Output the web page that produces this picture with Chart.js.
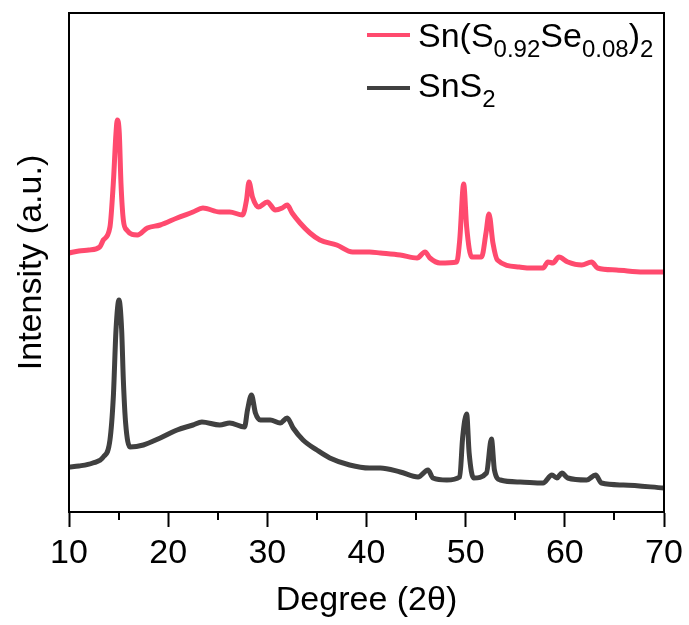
<!DOCTYPE html>
<html>
<head>
<meta charset="utf-8">
<title>XRD</title>
<script src="https://cdn.jsdelivr.net/npm/chart.js@4.4.1/dist/chart.umd.min.js"></script>
<style>
  body { margin: 0; background: #fff; }
  #wrap { position: relative; width: 689px; height: 625px; font-family: "Liberation Sans", Arial, sans-serif; }
  .leg { position: absolute; left: 367px; height: 4px; width: 43px; }
  .lab { position: absolute; left: 418px; font-size: 34px; line-height: 34px; color: #000; white-space: nowrap; }
  .lab span { font-size: 24px; position: relative; top: 10px; }
</style>
</head>
<body>
<div id="wrap">
  <canvas id="xrd" width="689" height="625"></canvas>
  <div class="leg" style="top:33px;background:#ff4a6e"></div>
  <div class="lab" style="top:18px">Sn(S<span>0.92</span>Se<span>0.08</span>)<span>2</span></div>
  <div class="leg" style="top:86px;background:#404040"></div>
  <div class="lab" style="top:68px">SnS<span>2</span></div>
</div>
<script>
// Sn(S0.92Se0.08)2 (graus, intensidade relativa)
const redX = [10.0, 11.0, 12.0, 13.1, 13.46, 14.13, 14.47, 14.74, 14.87, 15.07, 15.24, 15.48, 15.82, 16.9, 17.9, 19.2, 20.9, 22.5, 23.5, 25.2, 26.2, 27.5,
  27.9, 28.15, 28.5, 29.1, 30.0, 30.8, 31.5, 32.0, 32.5, 33.3, 34.3, 35.3, 37.0, 38.6, 40.3, 41.4, 43.4, 45.1, 45.9, 46.4,
  47.4, 49.1, 49.4, 49.8, 50.1, 50.6, 51.6, 52.05, 52.35, 52.75, 53.2, 55.4, 56.5, 57.8, 58.3, 58.8, 59.4, 60.3, 61.7, 62.7,
  63.3, 65.2, 67.9, 70.0];
const redY = [259, 261, 262, 265, 272, 285, 329, 379, 392, 379, 329, 292, 282, 277, 284, 287, 294, 300, 304, 300, 300, 297,
  312, 330, 315, 305, 310, 302, 304, 307, 299, 289, 279, 272, 267, 260, 260, 259, 257, 254, 260, 254,
  249, 250, 272, 328, 285, 255, 255, 279, 298, 269, 252, 245, 244, 244, 250, 249, 255, 250, 247, 250,
  244, 242, 240, 240];

// SnS2
const blackX = [10.0, 11.0, 12.4, 13.46, 14.13, 14.47, 14.74, 15.04, 15.31, 15.48, 15.71, 16.15, 17.5, 19.2, 20.9, 22.5, 23.4, 25.2, 26.2, 27.7, 28.0, 28.4,
  28.8, 29.3, 30.3, 31.3, 32.0, 32.6, 33.6, 35.0, 36.3, 38.3, 40.3, 41.4, 43.4, 45.2, 46.2, 46.7, 48.1, 49.4, 49.7, 50.1,
  50.35, 50.8, 52.1, 52.6, 52.9, 53.5, 55.5, 57.8, 58.7, 59.2, 59.7, 60.3, 62.2, 63.1, 63.7, 65.9, 70.0];
const blackY = [45, 46, 49, 55, 72, 115, 182, 212, 182, 132, 89, 65, 67, 74, 82, 87, 90, 87, 89, 85, 102, 117,
  99, 92, 92, 89, 94, 84, 72, 62, 54, 47, 44, 44, 40, 35, 42, 34, 32, 35, 75, 98,
  59, 34, 39, 73, 42, 32, 30, 29, 37, 34, 39, 34, 32, 37, 29, 27, 24];

const xTicks = [10, 20, 30, 40, 50, 60, 70];
const xMinorTicks = [15, 25, 35, 45, 55, 65];

const fonte = '"Liberation Sans", Arial, sans-serif';

const pontos = (xs, ys) => xs.map((x, i) => ({ x: x, y: ys[i] }));

// moldura + ticks menores
const moldura = {
  id: 'moldura',
  afterDraw(chart) {
    const { ctx, chartArea: a } = chart;
    const sx = chart.scales.x;
    ctx.save();
    ctx.strokeStyle = '#000';
    ctx.lineWidth = 2;
    ctx.strokeRect(a.left, a.top, a.right - a.left, a.bottom - a.top);
    ctx.beginPath();
    xMinorTicks.forEach(v => {
      const px = Math.round(sx.getPixelForValue(v));
      ctx.moveTo(px, a.bottom);
      ctx.lineTo(px, a.bottom + 8);
    });
    ctx.stroke();
    ctx.restore();
  }
};

const estiloLinha = {
  borderWidth: 5,
  borderJoinStyle: 'round',
  pointRadius: 0,
  cubicInterpolationMode: 'monotone'
};

new Chart(document.getElementById('xrd'), {
  type: 'line',
  data: {
    datasets: [
      { label: 'Sn(S0.92Se0.08)2', data: pontos(redX, redY), borderColor: '#ff4a6e', ...estiloLinha },
      { label: 'SnS2', data: pontos(blackX, blackY), borderColor: '#404040', ...estiloLinha }
    ]
  },
  options: {
    responsive: false,
    animation: false,
    layout: { padding: { top: 13, right: 25, left: 0, bottom: 0 } },
    plugins: { legend: { display: false }, tooltip: { enabled: false } },
    scales: {
      x: {
        type: 'linear',
        min: 10,
        max: 70,
        afterBuildTicks: s => { s.ticks = xTicks.map(v => ({ value: v })); },
        afterFit: s => { s.height = 113; },
        grid: { drawOnChartArea: false, drawTicks: true, tickLength: 15, tickWidth: 2, tickColor: '#000' },
        border: { display: true, color: '#000', width: 2 },
        ticks: { color: '#000', padding: 6, font: { family: fonte, size: 34 }, maxRotation: 0 },
        title: { display: true, text: 'Degree (2θ)', color: '#000', padding: { top: 0, bottom: 4 }, font: { family: fonte, size: 34 } }
      },
      y: {
        min: 0,
        max: 499,
        afterFit: s => { s.width = 69; },
        grid: { display: false },
        border: { display: false },
        ticks: { display: false },
        title: { display: true, text: 'Intensity (a.u.)', color: '#000', padding: { top: 11, bottom: 0 }, font: { family: fonte, size: 34 } }
      }
    }
  },
  plugins: [moldura]
});
</script>
</body>
</html>
